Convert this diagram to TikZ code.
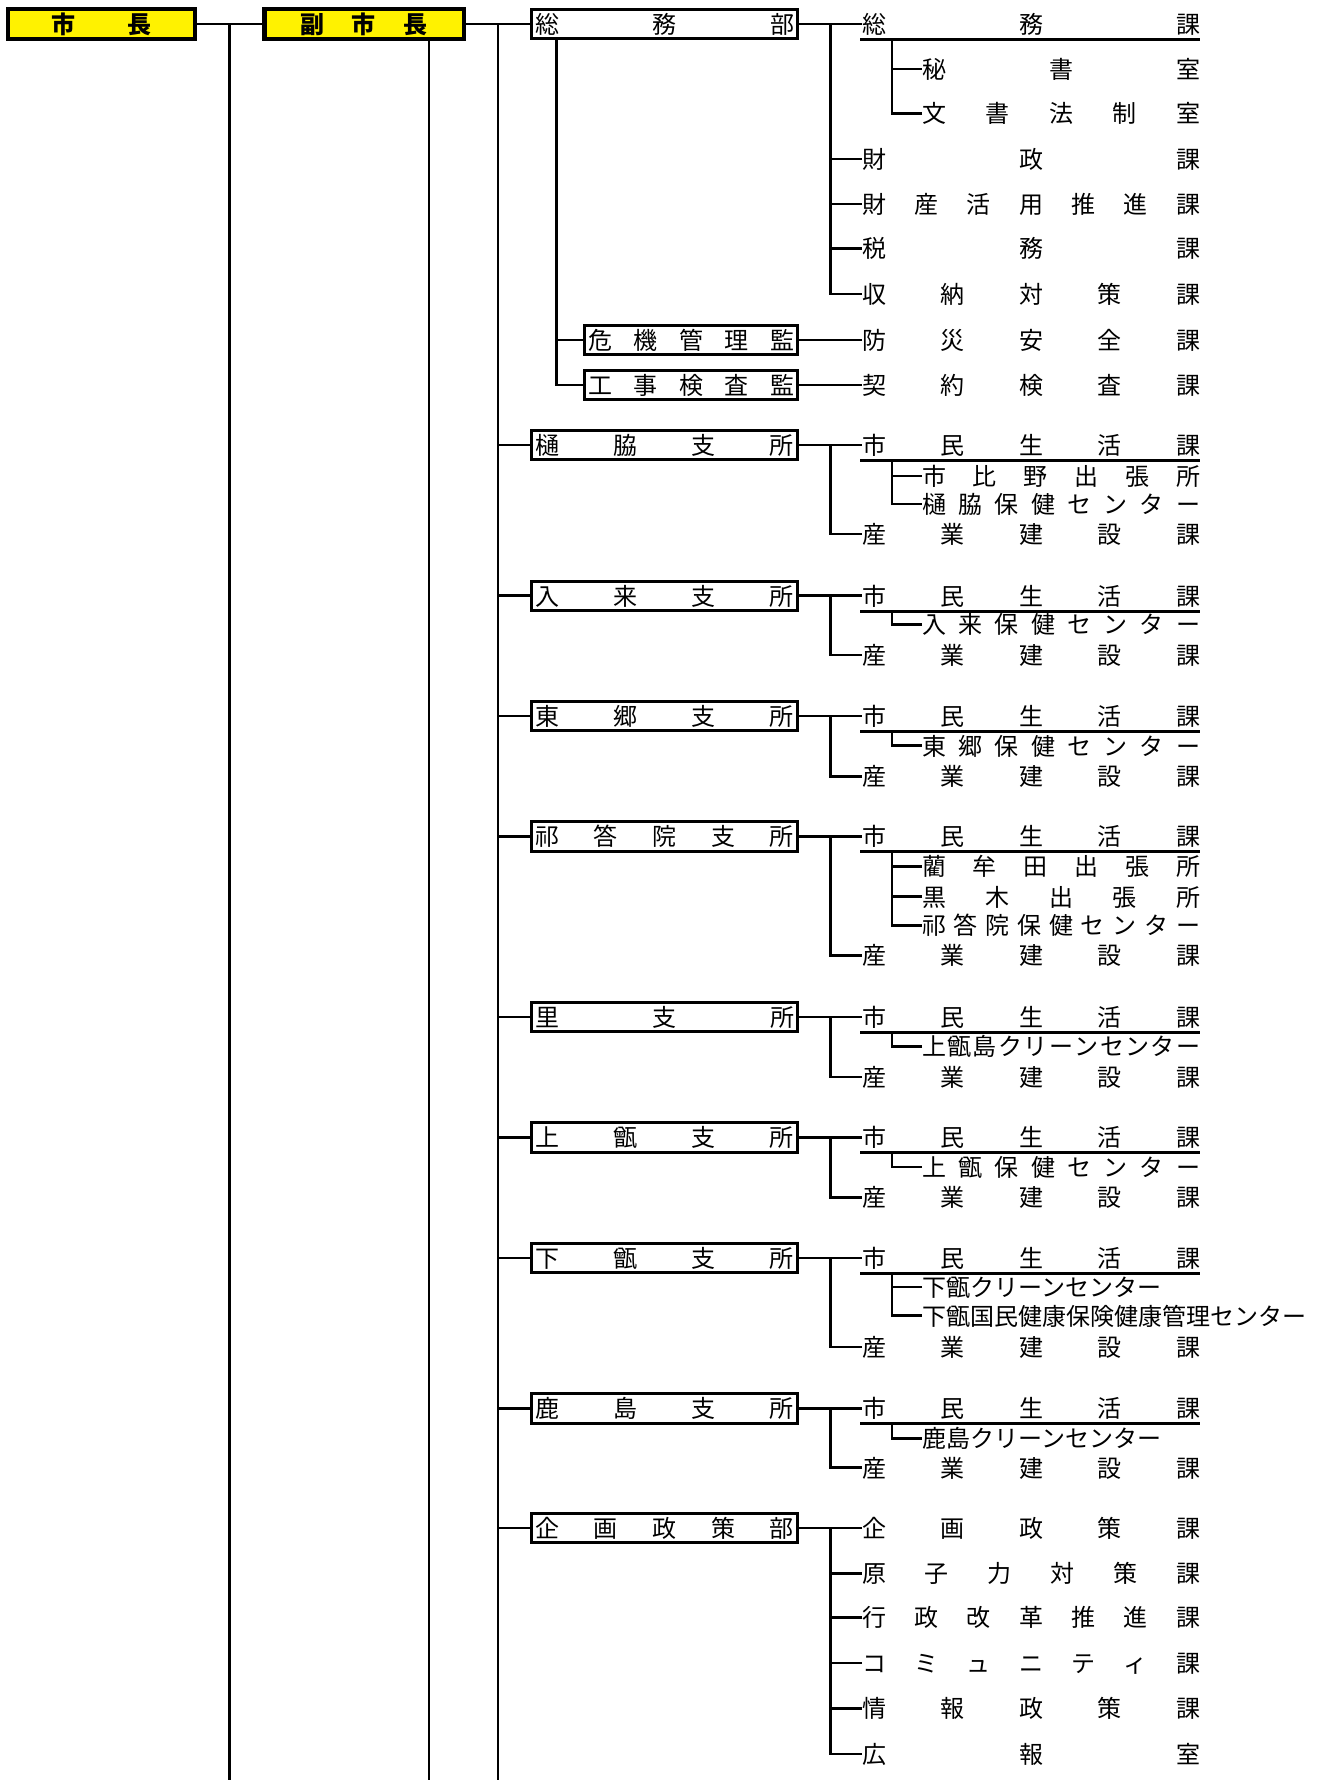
\documentclass[tikz,border=0pt]{standalone}
\usepackage{fontspec}
\setmainfont{Noto Sans CJK JP}
\usepackage{xcolor}
\usetikzlibrary{calc}

\makeatletter
\newcommand\spreadtext[2]{\makebox[#1][s]{\@tfor\sp@ch:=#2\do{\sp@ch\hfil}\unskip}}
\makeatother
\newcommand\depttext[1]{\spreadtext{259pt}{#1}}
\newcommand\itemtext[1]{\spreadtext{338pt}{#1}}
\newcommand\subtext[1]{\spreadtext{278pt}{#1}}

\begin{document}
\begin{tikzpicture}[x=1pt, y=-1pt,
      base/.style={
          inner sep=0pt, text height=20.6pt, text depth=2pt,
          font=\fontsize{24pt}{29pt}\selectfont
        },
      chief/.style={
          base, draw, line width=4.5pt, fill=yellow,
          minimum height=30pt,
          font=\fontsize{24pt}{29pt}\selectfont\bfseries
        },
      dept/.style={
          base, draw, line width=3pt, fill=white,
          minimum width=266pt, minimum height=29.5pt
        },
      item/.style={base, anchor=west, xshift=2pt},
      subitem/.style={base, anchor=west, xshift=2pt},
      conn/.style={line width=2.8pt},
      uline/.style={line width=3pt}
    ]
    \useasboundingbox (0,0) rectangle (1329,1780);
    \coordinate (pageend) at (0,1784);

    % ── 市長 / 副市長 ──
    \node[chief, minimum width=187pt]   (mayor) at (101.25,24) {\spreadtext{100pt}{市長}};
    \node[chief, minimum width=199.5pt] (vice)  at (364,24)    {\spreadtext{127pt}{副市長}};
    \node[dept] (somu) at (664.5,24) {\depttext{総務部}};

    \draw[conn] (mayor.east) -- (vice.west);
    \draw[conn] (vice.east) -- (somu.west);
    \coordinate (mayorJ) at ($(mayor.east)!.5!(vice.west)$);
    \coordinate (viceJ)  at ($(vice.east)!.5!(somu.west)$);
    \coordinate (viceB)  at ([xshift=65pt]vice.south);
    \draw[conn] (mayorJ) -- (mayorJ |- pageend);
    \draw[conn] (viceB) -- (viceB |- pageend);
    \draw[conn] (viceJ) -- (viceJ |- pageend);

    % ── 総務部 ──
    \node[item]    (somuka)  at (860,24)    {\itemtext{総務課}};
    \node[subitem] (hisho)   at (920,69)    {\subtext{秘書室}};
    \node[subitem] (bunsho)  at (920,113.5) {\subtext{文書法制室}};
    \node[item]    (zaisei)  at (860,159)   {\itemtext{財政課}};
    \node[item]    (zaisan)  at (860,204)   {\itemtext{財産活用推進課}};
    \node[item]    (zeimu)   at (860,248.5) {\itemtext{税務課}};
    \node[item]    (shuno)   at (860,294)   {\itemtext{収納対策課}};
    \node[dept, minimum width=213pt] (kiki) at (691.25,340) {\spreadtext{206pt}{危機管理監}};
    \node[dept, minimum width=213pt] (koji) at (691.25,385) {\spreadtext{206pt}{工事検査監}};
    \node[item]    (bosai)   at (860,340)   {\itemtext{防災安全課}};
    \node[item]    (keiyaku) at (860,385)   {\itemtext{契約検査課}};

    \draw[conn] (somu.east) -- (somuka.west);
    \draw[conn] (shuno.west) -- ++(-31.5,0) |- (somu.east);
    \foreach \n in {zaisei, zaisan, zeimu}
      \draw[conn] (\n.west) -- ++(-31.5,0);
    \draw[uline] ([xshift=-2pt,yshift=-3.7pt]somuka.south west) coordinate (somuU)
      -- ([yshift=-3.7pt]somuka.south east);
    \draw[conn] (bunsho.west) -- ++(-30,0) |- (somuU);
    \draw[conn] (hisho.west) -- ++(-30,0);
    \draw[conn] (koji.west) -- ++(-27,0) coordinate (somuJ) -- (somuJ |- somu.south);
    \draw[conn] (kiki.west) -- ++(-27,0);
    \draw[conn] (kiki.east) -- (bosai.west);
    \draw[conn] (koji.east) -- (keiyaku.west);

    % ── 樋脇支所 ──
    \node[dept]    (hiwaki)  at (664.5,445) {\depttext{樋脇支所}};
    \node[item]    (hiwakiS) at (860,445)   {\itemtext{市民生活課}};
    \node[subitem] (hiwakiA) at (920,476)   {\subtext{市比野出張所}};
    \node[subitem] (hiwakiB) at (920,504)   {\subtext{樋脇保健センター}};
    \node[item]    (hiwakiK) at (860,534)   {\itemtext{産業建設課}};
    \draw[conn] (hiwaki.west) -- (hiwaki.west -| viceJ);
    \draw[conn] (hiwaki.east) -- (hiwakiS.west);
    \draw[conn] (hiwakiK.west) -- ++(-31.5,0) |- (hiwaki.east);
    \draw[uline] ([xshift=-2pt,yshift=-3.7pt]hiwakiS.south west) coordinate (hiwakiU)
      -- ([yshift=-3.7pt]hiwakiS.south east);
    \draw[conn] (hiwakiB.west) -- ++(-30,0) |- (hiwakiU);
    \draw[conn] (hiwakiA.west) -- ++(-30,0);

    % ── 入来支所 ──
    \node[dept]    (iriki)  at (664.5,595.8) {\depttext{入来支所}};
    \node[item]    (irikiS) at (860,595.8)   {\itemtext{市民生活課}};
    \node[subitem] (irikiA) at (920,624.5)   {\subtext{入来保健センター}};
    \node[item]    (irikiK) at (860,655)     {\itemtext{産業建設課}};
    \draw[conn] (iriki.west) -- (iriki.west -| viceJ);
    \draw[conn] (iriki.east) -- (irikiS.west);
    \draw[conn] (irikiK.west) -- ++(-31.5,0) |- (iriki.east);
    \draw[uline] ([xshift=-2pt,yshift=-3.7pt]irikiS.south west) coordinate (irikiU)
      -- ([yshift=-3.7pt]irikiS.south east);
    \draw[conn] (irikiA.west) -- ++(-30,0) |- (irikiU);

    % ── 東郷支所 ──
    \node[dept]    (togo)  at (664.5,716) {\depttext{東郷支所}};
    \node[item]    (togoS) at (860,716)   {\itemtext{市民生活課}};
    \node[subitem] (togoA) at (920,745.7) {\subtext{東郷保健センター}};
    \node[item]    (togoK) at (860,776.3) {\itemtext{産業建設課}};
    \draw[conn] (togo.west) -- (togo.west -| viceJ);
    \draw[conn] (togo.east) -- (togoS.west);
    \draw[conn] (togoK.west) -- ++(-31.5,0) |- (togo.east);
    \draw[uline] ([xshift=-2pt,yshift=-3.7pt]togoS.south west) coordinate (togoU)
      -- ([yshift=-3.7pt]togoS.south east);
    \draw[conn] (togoA.west) -- ++(-30,0) |- (togoU);

    % ── 祁答院支所 ──
    \node[dept]    (kedo)  at (664.5,836.3) {\depttext{祁答院支所}};
    \node[item]    (kedoS) at (860,836.3)   {\itemtext{市民生活課}};
    \node[subitem] (kedoA) at (920,866.3)   {\subtext{藺牟田出張所}};
    \node[subitem] (kedoB) at (920,896.7)   {\subtext{黒木出張所}};
    \node[subitem] (kedoC) at (920,925.6)   {\subtext{祁答院保健センター}};
    \node[item]    (kedoK) at (860,955.4)   {\itemtext{産業建設課}};
    \draw[conn] (kedo.west) -- (kedo.west -| viceJ);
    \draw[conn] (kedo.east) -- (kedoS.west);
    \draw[conn] (kedoK.west) -- ++(-31.5,0) |- (kedo.east);
    \draw[uline] ([xshift=-2pt,yshift=-3.7pt]kedoS.south west) coordinate (kedoU)
      -- ([yshift=-3.7pt]kedoS.south east);
    \draw[conn] (kedoC.west) -- ++(-30,0) |- (kedoU);
    \draw[conn] (kedoA.west) -- ++(-30,0);
    \draw[conn] (kedoB.west) -- ++(-30,0);

    % ── 里支所 ──
    \node[dept]    (sato)  at (664.5,1017)   {\depttext{里支所}};
    \node[item]    (satoS) at (860,1017)     {\itemtext{市民生活課}};
    \node[subitem] (satoA) at (920,1046.5)   {\subtext{上甑島クリーンセンター}};
    \node[item]    (satoK) at (860,1077)     {\itemtext{産業建設課}};
    \draw[conn] (sato.west) -- (sato.west -| viceJ);
    \draw[conn] (sato.east) -- (satoS.west);
    \draw[conn] (satoK.west) -- ++(-31.5,0) |- (sato.east);
    \draw[uline] ([xshift=-2pt,yshift=-3.7pt]satoS.south west) coordinate (satoU)
      -- ([yshift=-3.7pt]satoS.south east);
    \draw[conn] (satoA.west) -- ++(-30,0) |- (satoU);

    % ── 上甑支所 ──
    \node[dept]    (kami)  at (664.5,1137.4) {\depttext{上甑支所}};
    \node[item]    (kamiS) at (860,1137.4)   {\itemtext{市民生活課}};
    \node[subitem] (kamiA) at (920,1166.9)   {\subtext{上甑保健センター}};
    \node[item]    (kamiK) at (860,1197.5)   {\itemtext{産業建設課}};
    \draw[conn] (kami.west) -- (kami.west -| viceJ);
    \draw[conn] (kami.east) -- (kamiS.west);
    \draw[conn] (kamiK.west) -- ++(-31.5,0) |- (kami.east);
    \draw[uline] ([xshift=-2pt,yshift=-3.7pt]kamiS.south west) coordinate (kamiU)
      -- ([yshift=-3.7pt]kamiS.south east);
    \draw[conn] (kamiA.west) -- ++(-30,0) |- (kamiU);

    % ── 下甑支所 ──
    \node[dept]    (shimo)  at (664.5,1258) {\depttext{下甑支所}};
    \node[item]    (shimoS) at (860,1258)   {\itemtext{市民生活課}};
    \node[subitem] (shimoA) at (920,1287)   {下甑クリーンセンター};
    \node[subitem] (shimoB) at (920,1315.8) {下甑国民健康保険健康管理センター};
    \node[item]    (shimoK) at (860,1347)   {\itemtext{産業建設課}};
    \draw[conn] (shimo.west) -- (shimo.west -| viceJ);
    \draw[conn] (shimo.east) -- (shimoS.west);
    \draw[conn] (shimoK.west) -- ++(-31.5,0) |- (shimo.east);
    \draw[uline] ([xshift=-2pt,yshift=-3.7pt]shimoS.south west) coordinate (shimoU)
      -- ([yshift=-3.7pt]shimoS.south east);
    \draw[conn] (shimoB.west) -- ++(-30,0) |- (shimoU);
    \draw[conn] (shimoA.west) -- ++(-30,0);

    % ── 鹿島支所 ──
    \node[dept]    (kashima)  at (664.5,1408.6) {\depttext{鹿島支所}};
    \node[item]    (kashimaS) at (860,1408.6)   {\itemtext{市民生活課}};
    \node[subitem] (kashimaA) at (920,1438.2)   {鹿島クリーンセンター};
    \node[item]    (kashimaK) at (860,1467.7)   {\itemtext{産業建設課}};
    \draw[conn] (kashima.west) -- (kashima.west -| viceJ);
    \draw[conn] (kashima.east) -- (kashimaS.west);
    \draw[conn] (kashimaK.west) -- ++(-31.5,0) |- (kashima.east);
    \draw[uline] ([xshift=-2pt,yshift=-3.7pt]kashimaS.south west) coordinate (kashimaU)
      -- ([yshift=-3.7pt]kashimaS.south east);
    \draw[conn] (kashimaA.west) -- ++(-30,0) |- (kashimaU);

    % ── 企画政策部 ──
    \node[dept] (kikaku)  at (664.5,1528)  {\depttext{企画政策部}};
    \node[item] (kikakuA) at (860,1528)    {\itemtext{企画政策課}};
    \node[item] (kikakuB) at (860,1573.3)  {\itemtext{原子力対策課}};
    \node[item] (kikakuC) at (860,1617.5)  {\itemtext{行政改革推進課}};
    \node[item] (kikakuD) at (860,1663)    {\itemtext{コミュニティ課}};
    \node[item] (kikakuE) at (860,1708.4)  {\itemtext{情報政策課}};
    \node[item] (kikakuF) at (860,1754)    {\itemtext{広報室}};
    \draw[conn] (kikaku.west) -- (kikaku.west -| viceJ);
    \draw[conn] (kikaku.east) -- (kikakuA.west);
    \draw[conn] (kikakuF.west) -- ++(-31.5,0) |- (kikaku.east);
    \foreach \n in {kikakuB, kikakuC, kikakuD, kikakuE}
      \draw[conn] (\n.west) -- ++(-31.5,0);

  \end{tikzpicture}
\end{document}
